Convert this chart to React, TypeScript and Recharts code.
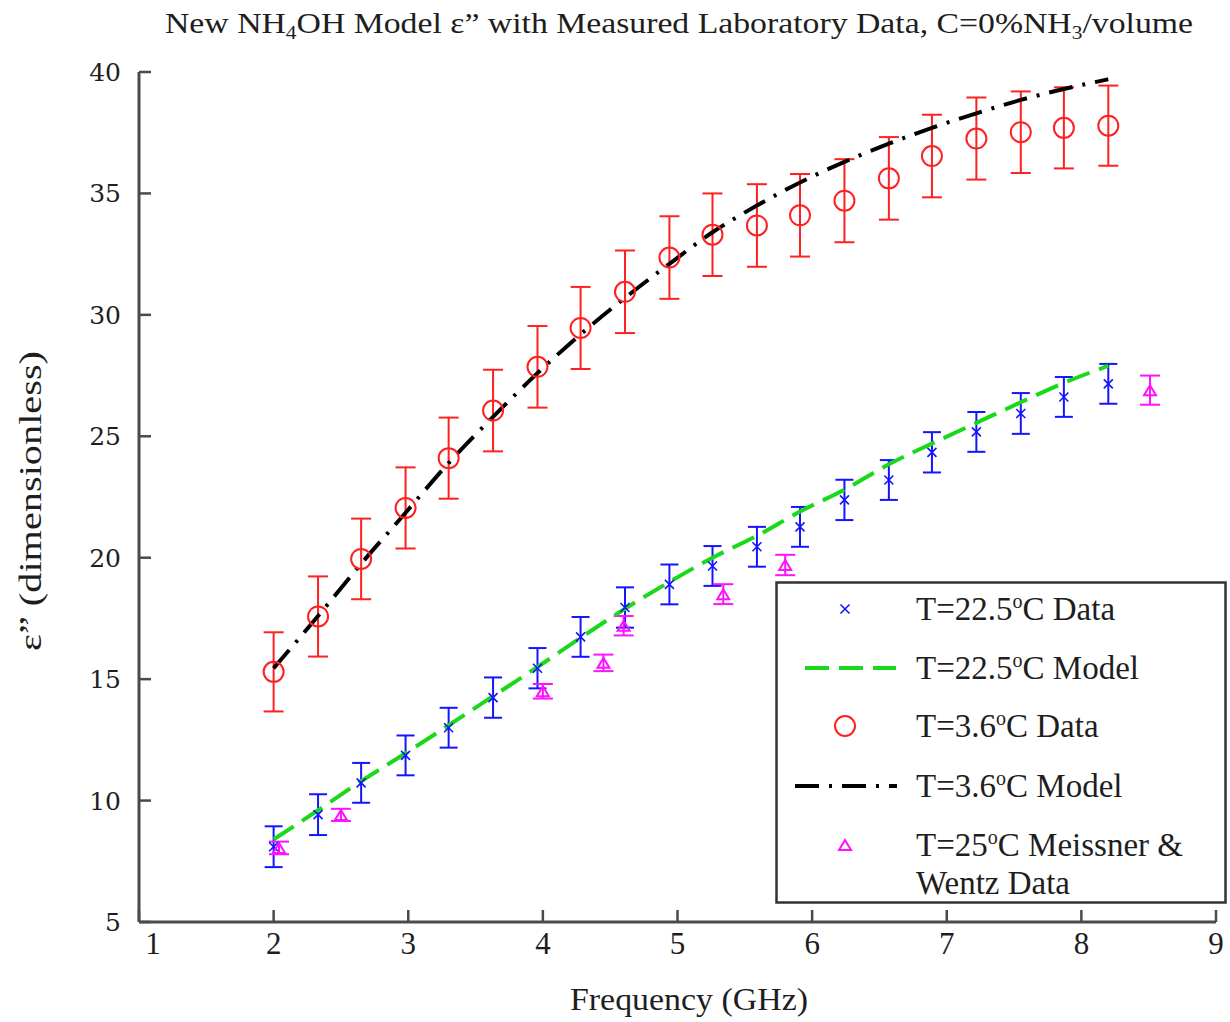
import React from "react";
import { ComposedChart, XAxis, YAxis, Scatter, Line, ErrorBar, Legend } from "recharts";

// Frequencies (GHz) of the laboratory sweep
const freq = [2.0, 2.33, 2.65, 2.98, 3.3, 3.63, 3.96, 4.28, 4.61, 4.94, 5.26, 5.59, 5.91, 6.24, 6.57, 6.89, 7.22, 7.55, 7.87, 8.2];

// T = 22.5 C measurements, uncertainty and model
const data225 = [8.1, 9.42, 10.73, 11.86, 13.0, 14.24, 15.45, 16.74, 17.95, 18.9, 19.66, 20.45, 21.27, 22.38, 23.2, 24.34, 25.18, 25.94, 26.62, 27.16];
const err225 = [0.84, 0.84, 0.82, 0.82, 0.82, 0.83, 0.83, 0.82, 0.83, 0.82, 0.82, 0.82, 0.82, 0.83, 0.82, 0.83, 0.82, 0.84, 0.82, 0.82];
const model225 = [8.4, 9.6, 10.8, 11.95, 13.1, 14.3, 15.5, 16.7, 17.9, 19.0, 20.0, 20.9, 21.9, 22.8, 23.85, 24.7, 25.55, 26.4, 27.2, 27.9];

// T = 3.6 C measurements, uncertainty and model
const data36 = [15.3, 17.58, 19.95, 22.05, 24.1, 26.06, 27.86, 29.46, 30.95, 32.36, 33.3, 33.68, 34.1, 34.7, 35.62, 36.54, 37.26, 37.52, 37.7, 37.79];
const err36 = [1.63, 1.65, 1.66, 1.67, 1.67, 1.68, 1.68, 1.69, 1.7, 1.7, 1.7, 1.7, 1.7, 1.71, 1.7, 1.7, 1.69, 1.68, 1.67, 1.65];
const model36 = [15.45, 17.6, 19.75, 21.85, 23.9, 25.8, 27.6, 29.2, 30.7, 32.1, 33.4, 34.5, 35.45, 36.3, 37.05, 37.7, 38.3, 38.85, 39.3, 39.7];

// Meissner & Wentz reference points, T = 25 C
const mwFreq = [2.04, 2.5, 4.0, 4.45, 4.6, 5.34, 5.8, 8.51];
const mwData = [8.05, 9.41, 14.5, 15.67, 17.2, 18.5, 19.7, 26.9];
const mwErr = [0.26, 0.25, 0.3, 0.34, 0.4, 0.41, 0.42, 0.6];

const xTicks = [1, 2, 3, 4, 5, 6, 7, 8, 9];
const yTicks = [5, 10, 15, 20, 25, 30, 35, 40];

const rows = (xs: number[], ys: number[], es?: number[]) =>
  xs.map((f, i) => ({ f, v: ys[i], e: es ? es[i] : 0 }));

const BLUE = "#1414ff";
const RED = "#ff2020";
const GREEN = "#1ad81a";
const MAGENTA = "#ff10ff";
const AXIS = "#4a4a4a";
const INK = "#1e1e1e";
const SERIF = "'Liberation Serif', serif";

function Cross({ cx, cy }: any) {
  const s = 4.5;
  return (
    <path
      d={`M${cx - s},${cy - s}L${cx + s},${cy + s}M${cx - s},${cy + s}L${cx + s},${cy - s}`}
      stroke={BLUE}
      strokeWidth={1.6}
      fill="none"
    />
  );
}

function Ring({ cx, cy }: any) {
  return <circle cx={cx} cy={cy} r={10} fill="none" stroke={RED} strokeWidth={2} />;
}

function Tri({ cx, cy }: any) {
  return (
    <path
      d={`M${cx},${cy - 5}L${cx + 6},${cy + 5}L${cx - 6},${cy + 5}Z`}
      fill="none"
      stroke={MAGENTA}
      strokeWidth={2}
    />
  );
}

function XTick({ x, y, payload }: any) {
  // the first label sits a little right of the corner
  const shift = payload.value === 1 ? 14 : 0;
  return (
    <text x={x + shift} y={y} dy="0.71em" textAnchor="middle" fontFamily={SERIF} fontSize={31} fill={INK}>
      {payload.value}
    </text>
  );
}

function YTick({ x, y, payload }: any) {
  return (
    <text x={x} y={y} dy="0.36em" textAnchor="end" fontFamily="'DejaVu Serif', serif" fontSize={25} fill={INK}>
      {payload.value}
    </text>
  );
}

function Deg({ pre, post, x, y }: { pre: string; post: string; x: number; y: number }) {
  return (
    <text x={x} y={y} fontFamily={SERIF} fontSize={33} fill={INK}>
      {pre}
      <tspan fontSize={20} dy={-12}>o</tspan>
      <tspan dy={12}>{post}</tspan>
    </text>
  );
}

function LegendBox() {
  return (
    <svg width={452} height={323}>
      <rect x={1.5} y={1.5} width={449} height={320} fill="#fff" stroke="#333" strokeWidth={2.5} />
      <Cross cx={70} cy={28} />
      <Deg pre="T=22.5" post="C Data" x={141} y={39} />
      <line x1={30} y1={87} x2={121} y2={87} stroke={GREEN} strokeWidth={4} strokeDasharray="24 10" />
      <Deg pre="T=22.5" post="C Model" x={141} y={98} />
      <Ring cx={70} cy={145} />
      <Deg pre="T=3.6" post="C Data" x={141} y={156} />
      <line x1={20} y1={205} x2={122} y2={205} stroke="#000" strokeWidth={4} strokeDasharray="24 10 3 10" />
      <Deg pre="T=3.6" post="C Model" x={141} y={216} />
      <Tri cx={70} cy={264} />
      <Deg pre="T=25" post="C Meissner &" x={141} y={275} />
      <text x={141} y={313} fontFamily={SERIF} fontSize={33} fill={INK}>Wentz Data</text>
    </svg>
  );
}

export default function App() {
  const d225 = rows(freq, data225, err225);
  const m225 = rows(freq, model225);
  const d36 = rows(freq, data36, err36);
  const m36 = rows(freq, model36);
  const mw = rows(mwFreq, mwData, mwErr);

  return (
    <div style={{ position: "absolute", left: 0, top: 0, width: 1230, height: 1022, background: "#fff" }}>
      <ComposedChart width={1230} height={1022} margin={{ top: 72, right: 14, bottom: 0, left: 0 }}>
        <XAxis
          type="number"
          dataKey="f"
          domain={[1, 9]}
          ticks={xTicks}
          allowDataOverflow
          height={100}
          tickSize={-12}
          tickMargin={22}
          tick={<XTick />}
          axisLine={{ stroke: AXIS, strokeWidth: 3 }}
          tickLine={{ stroke: AXIS, strokeWidth: 2.5 }}
        />
        <YAxis
          type="number"
          dataKey="v"
          domain={[5, 40]}
          ticks={yTicks}
          allowDataOverflow
          width={139}
          tickSize={-12}
          tickMargin={30}
          tick={<YTick />}
          axisLine={{ stroke: AXIS, strokeWidth: 3 }}
          tickLine={{ stroke: AXIS, strokeWidth: 2.5 }}
        />
        <Legend
          layout="horizontal"
          verticalAlign="middle"
          align="center"
          content={() => <LegendBox />}
          wrapperStyle={{ position: "absolute", left: 775, top: 581, width: 452, height: 323 }}
        />
        <Scatter data={d36} shape={Ring} isAnimationActive={false}>
          <ErrorBar dataKey="e" direction="y" width={10} stroke={RED} strokeWidth={2} />
        </Scatter>
        <Line
          data={m36}
          dataKey="v"
          type="monotone"
          stroke="#000"
          strokeWidth={4}
          strokeDasharray="24 10 3 10"
          dot={false}
          isAnimationActive={false}
        />
        <Scatter data={d225} shape={Cross} isAnimationActive={false}>
          <ErrorBar dataKey="e" direction="y" width={9} stroke={BLUE} strokeWidth={2} />
        </Scatter>
        <Scatter data={mw} shape={Tri} isAnimationActive={false}>
          <ErrorBar dataKey="e" direction="y" width={10} stroke={MAGENTA} strokeWidth={2} />
        </Scatter>
        <Line
          data={m225}
          dataKey="v"
          type="monotone"
          stroke={GREEN}
          strokeWidth={4}
          strokeDasharray="24 10"
          dot={false}
          isAnimationActive={false}
        />
        <text x={679} y={33} textAnchor="middle" fontFamily={SERIF} fontSize={30} fill={INK} textLength={1028} lengthAdjust="spacingAndGlyphs">
          New NH<tspan fontSize={19} dy={6}>4</tspan>
          <tspan dy={-6}>OH Model ε” with Measured Laboratory Data, C=0%NH</tspan>
          <tspan fontSize={19} dy={6}>3</tspan>
          <tspan dy={-6}>/volume</tspan>
        </text>
        <text
          x={689}
          y={1010}
          textAnchor="middle"
          fontFamily={SERIF}
          fontSize={31}
          fill={INK}
          textLength={238}
          lengthAdjust="spacingAndGlyphs"
        >
          Frequency (GHz)
        </text>
        <text
          transform="translate(41,501) rotate(-90)"
          textAnchor="middle"
          fontFamily={SERIF}
          fontSize={31}
          fill={INK}
          textLength={300}
          lengthAdjust="spacingAndGlyphs"
        >
          ε” (dimensionless)
        </text>
      </ComposedChart>
    </div>
  );
}
